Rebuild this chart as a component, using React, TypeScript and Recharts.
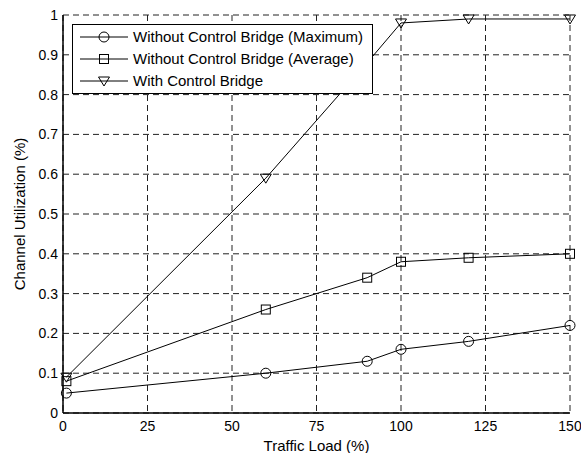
import {
  CartesianGrid,
  Line,
  LineChart,
  XAxis,
  YAxis,
} from "recharts";

const loads = [1, 60, 90, 100, 120, 150];
const maxUtil = [0.05, 0.1, 0.13, 0.16, 0.18, 0.22];
const avgUtil = [0.08, 0.26, 0.34, 0.38, 0.39, 0.4];
const bridgeUtil = [0.09, 0.59, 0.88, 0.98, 0.99, 0.99];

const xTicks = [0, 25, 50, 75, 100, 125, 150];
const yTicks = [0, 0.1, 0.2, 0.3, 0.4, 0.5, 0.6, 0.7, 0.8, 0.9, 1];

const seriesNames = [
  "Without Control Bridge (Maximum)",
  "Without Control Bridge (Average)",
  "With Control Bridge",
];

const chartData = loads.map((load, i) => ({
  load,
  max: maxUtil[i],
  avg: avgUtil[i],
  bridge: bridgeUtil[i],
}));

const FONT = "'Liberation Sans', Arial, sans-serif";

type DotProps = { cx?: number; cy?: number; index?: number };

function CircleMark({ cx, cy, index }: DotProps) {
  if (cx == null || cy == null) return null;
  return <circle key={`c${index}`} cx={cx} cy={cy} r={5} fill="none" stroke="#000" strokeWidth={1} />;
}

function SquareMark({ cx, cy, index }: DotProps) {
  if (cx == null || cy == null) return null;
  return (
    <rect key={`s${index}`} x={cx - 4.5} y={cy - 4.5} width={9} height={9} fill="none" stroke="#000" strokeWidth={1} />
  );
}

function TriangleMark({ cx, cy, index }: DotProps) {
  if (cx == null || cy == null) return null;
  return (
    <polygon
      key={`t${index}`}
      points={`${cx - 5.5},${cy - 4} ${cx + 5.5},${cy - 4} ${cx},${cy + 5}`}
      fill="none"
      stroke="#000"
      strokeWidth={1}
    />
  );
}

const markers = [CircleMark, SquareMark, TriangleMark];

// boxed legend laid over the upper-left of the plot, like the matlab one
function BoxLegend() {
  return (
    <div
      style={{
        position: "absolute",
        left: 72,
        top: 24,
        width: 301,
        height: 70,
        border: "1px solid #000",
        background: "#fff",
        boxSizing: "border-box",
        fontFamily: FONT,
        fontSize: 15,
        paddingTop: 1,
      }}
    >
      {seriesNames.map((name, i) => {
        const Mark = markers[i];
        return (
          <div key={name} style={{ display: "flex", alignItems: "center", height: 22 }}>
            <svg width={60} height={22} style={{ flex: "none" }}>
              <line x1={7} x2={55} y1={11} y2={11} stroke="#000" strokeWidth={1} />
              <Mark cx={31} cy={11} />
            </svg>
            <span style={{ color: "#000", lineHeight: "22px" }}>{name}</span>
          </div>
        );
      })}
    </div>
  );
}

export default function App() {
  return (
    <div style={{ position: "absolute", left: 0, top: 0, width: 581, height: 453, background: "#fff" }}>
      <LineChart
        width={581}
        height={453}
        data={chartData}
        margin={{ top: 15, right: 11, left: 0, bottom: 0 }}
      >
        <CartesianGrid stroke="#222" strokeDasharray="6 4" strokeWidth={1} />
        <XAxis
          dataKey="load"
          type="number"
          domain={[0, 150]}
          ticks={xTicks}
          height={40}
          tickLine={false}
          axisLine={{ stroke: "#000", strokeWidth: 1.5 }}
          tick={{ fill: "#000", fontSize: 14, fontFamily: FONT }}
          label={{
            value: "Traffic Load (%)",
            position: "insideBottom",
            offset: 2,
            fill: "#000",
            fontSize: 15,
            fontFamily: FONT,
          }}
        />
        <XAxis
          xAxisId="top"
          orientation="top"
          type="number"
          domain={[0, 150]}
          height={0}
          tick={false}
          tickLine={false}
          axisLine={{ stroke: "#000", strokeWidth: 1 }}
        />
        <YAxis
          type="number"
          domain={[0, 1]}
          ticks={yTicks}
          width={63}
          tickLine={false}
          tickSize={3}
          tickMargin={2}
          axisLine={{ stroke: "#000", strokeWidth: 1.5 }}
          tick={{ fill: "#000", fontSize: 14, fontFamily: FONT }}
          label={{
            value: "Channel Utilization (%)",
            angle: -90,
            position: "insideLeft",
            offset: 20,
            style: { textAnchor: "middle" },
            fill: "#000",
            fontSize: 15,
            fontFamily: FONT,
          }}
        />
        <YAxis
          yAxisId="right"
          orientation="right"
          type="number"
          domain={[0, 1]}
          width={0}
          tick={false}
          tickLine={false}
          axisLine={{ stroke: "#000", strokeWidth: 1.5 }}
        />
        <Line
          dataKey="max"
          name={seriesNames[0]}
          stroke="#000"
          strokeWidth={1}
          dot={(p: DotProps) => <CircleMark {...p} />}
          activeDot={false}
          isAnimationActive={false}
        />
        <Line
          dataKey="avg"
          name={seriesNames[1]}
          stroke="#000"
          strokeWidth={1}
          dot={(p: DotProps) => <SquareMark {...p} />}
          activeDot={false}
          isAnimationActive={false}
        />
        <Line
          dataKey="bridge"
          name={seriesNames[2]}
          stroke="#000"
          strokeWidth={1}
          dot={(p: DotProps) => <TriangleMark {...p} />}
          activeDot={false}
          isAnimationActive={false}
        />
      </LineChart>
      <BoxLegend />
    </div>
  );
}
